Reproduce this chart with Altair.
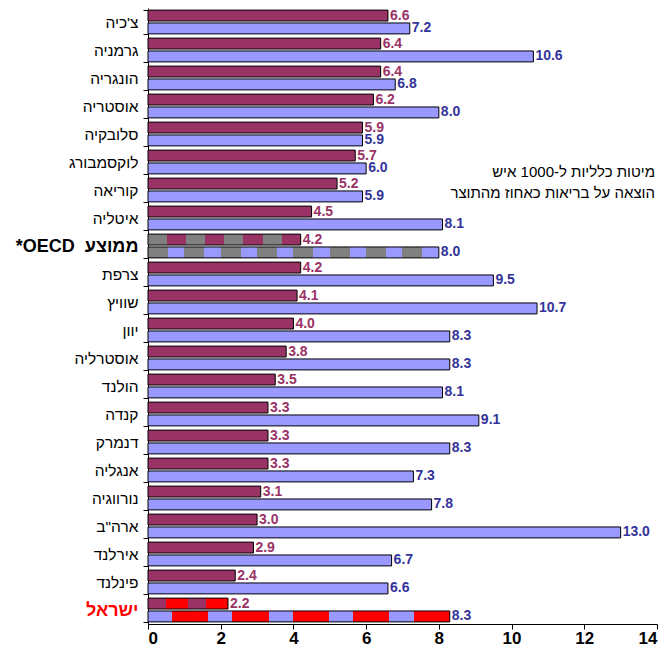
import altair as alt
import pandas as pd

OECD = "ממוצע\u00a0\u00a0OECD*"
ISRAEL = "ישראל"

countries = ["צ'כיה", "גרמניה", "הונגריה", "אוסטריה", "סלובקיה", "לוקסמבורג", "קוריאה",
             "איטליה", OECD, "צרפת", "שוויץ", "יוון", "אוסטרליה", "הולנד", "קנדה",
             "דנמרק", "אנגליה", "נורווגיה", 'ארה"ב', "אירלנד", "פינלנד", ISRAEL]
beds = [6.6, 6.4, 6.4, 6.2, 5.9, 5.7, 5.2, 4.5, 4.2, 4.2, 4.1, 4.0, 3.8, 3.5, 3.3, 3.3,
        3.3, 3.1, 3.0, 2.9, 2.4, 2.2]
spend = [7.2, 10.6, 6.8, 8.0, 5.9, 6.0, 5.9, 8.1, 8.0, 9.5, 10.7, 8.3, 8.3, 8.1, 9.1, 8.3,
         7.3, 7.8, 13.0, 6.7, 6.6, 8.3]
series_keys = ["beds", "spend"]
series_names = ["מיטות כלליות ל-1000 איש", "הוצאה על בריאות כאחוז מהתוצר"]
x_ticks = [0, 2, 4, 6, 8, 10, 12, 14]

MAROON = "#993366"
LAVENDER = "#9999FF"
GRAY = "#808080"
RED = "#FF0000"
FONT = "Liberation Sans"

rows = []
for c, b, s in zip(countries, beds, spend):
    rows.append({"country": c, "series": "beds", "value": b, "label": f"{b:.1f}"})
    rows.append({"country": c, "series": "spend", "value": s, "label": f"{s:.1f}"})
df = pd.DataFrame(rows)


def stripes(pattern, n):
    stops = []
    pos = 0.0
    for _ in range(n):
        for color, w in pattern:
            end = min(1.0, pos + w / n)
            stops.append({"offset": round(pos, 4), "color": color})
            stops.append({"offset": round(end, 4), "color": color})
            pos = end
    return {"gradient": "linear", "x1": 0, "y1": 0, "x2": 1, "y2": 0, "stops": stops}


fill = alt.Fill(
    "series:N",
    scale=alt.Scale(domain=series_keys, range=[MAROON, LAVENDER]),
    legend=None,
    condition=[
        {"test": f"datum.country === '{OECD}' && datum.series === 'beds'",
         "value": stripes([(GRAY, 0.5), (MAROON, 0.5)], 4)},
        {"test": f"datum.country === '{OECD}' && datum.series === 'spend'",
         "value": stripes([(GRAY, 0.55), (LAVENDER, 0.45)], 8)},
        {"test": f"datum.country === '{ISRAEL}' && datum.series === 'beds'",
         "value": stripes([(MAROON, 0.45), (RED, 0.55)], 2)},
        {"test": f"datum.country === '{ISRAEL}' && datum.series === 'spend'",
         "value": stripes([(LAVENDER, 0.4), (RED, 0.6)], 5)},
    ],
)

special = f"datum.value === '{ISRAEL}' || datum.value === '{OECD}'"
y_enc = alt.Y(
    "country:N",
    sort=countries,
    scale=alt.Scale(paddingInner=0.15, paddingOuter=0.075),
    axis=alt.Axis(
        title=None,
        tickBand="extent",
        tickSize=5,
        tickColor="black",
        domainColor="black",
        labelFont=FONT,
        labelFontSize={"condition": {"test": special, "value": 18}, "value": 15.5},
        labelPadding=5,
        labelLimit=200,
        labelColor={"condition": {"test": f"datum.value === '{ISRAEL}'", "value": RED}, "value": "black"},
        labelFontWeight={"condition": {"test": special, "value": "bold"}, "value": "normal"},
        labelExpr="'\u202b' + datum.label + '\u202c'",
    ),
)
yoff = alt.YOffset("series:N", sort=series_keys, scale=alt.Scale(paddingInner=0.15))
x_enc = alt.X(
    "value:Q",
    scale=alt.Scale(domain=[0, 14], nice=False),
    axis=alt.Axis(
        title=None,
        values=x_ticks,
        grid=False,
        tickSize=5,
        tickColor="black",
        domainColor="black",
        labelFont=FONT,
        labelFontSize=17,
        labelFontWeight="bold",
        labelColor="black",
        labelPadding=1,
    ),
)

base = alt.Chart(df)
bars = base.mark_bar(stroke="black", strokeWidth=1).encode(
    x=x_enc, y=y_enc, yOffset=yoff, fill=fill
)
values = base.mark_text(
    align="left", baseline="middle", dx=2, font=FONT, fontSize=14, fontWeight="bold"
).encode(
    x="value:Q",
    y=alt.Y("country:N", sort=countries),
    yOffset=alt.YOffset("series:N", sort=series_keys),
    text="label:N",
    color=alt.Color("series:N", scale=alt.Scale(domain=series_keys, range=[MAROON, "#333399"]),
                    legend=None),
)
legend_txt = alt.Chart(pd.DataFrame({"t": ["\n".join(series_names)]})).mark_text(
    align="right", baseline="alphabetic", font=FONT, fontSize=15, lineBreak="\n",
    lineHeight=21, color="black"
).encode(x=alt.value(507), y=alt.value(169), text="t:N")

chart = alt.layer(bars, values, legend_txt).properties(
    width=509,
    height=616,
    padding={"left": 140, "top": 0, "right": 1, "bottom": 24},
    autosize=alt.AutoSizeParams(type="none"),
).configure_view(stroke=None)

chart.save("out.html", embed_options={"renderer": "svg", "actions": False})
